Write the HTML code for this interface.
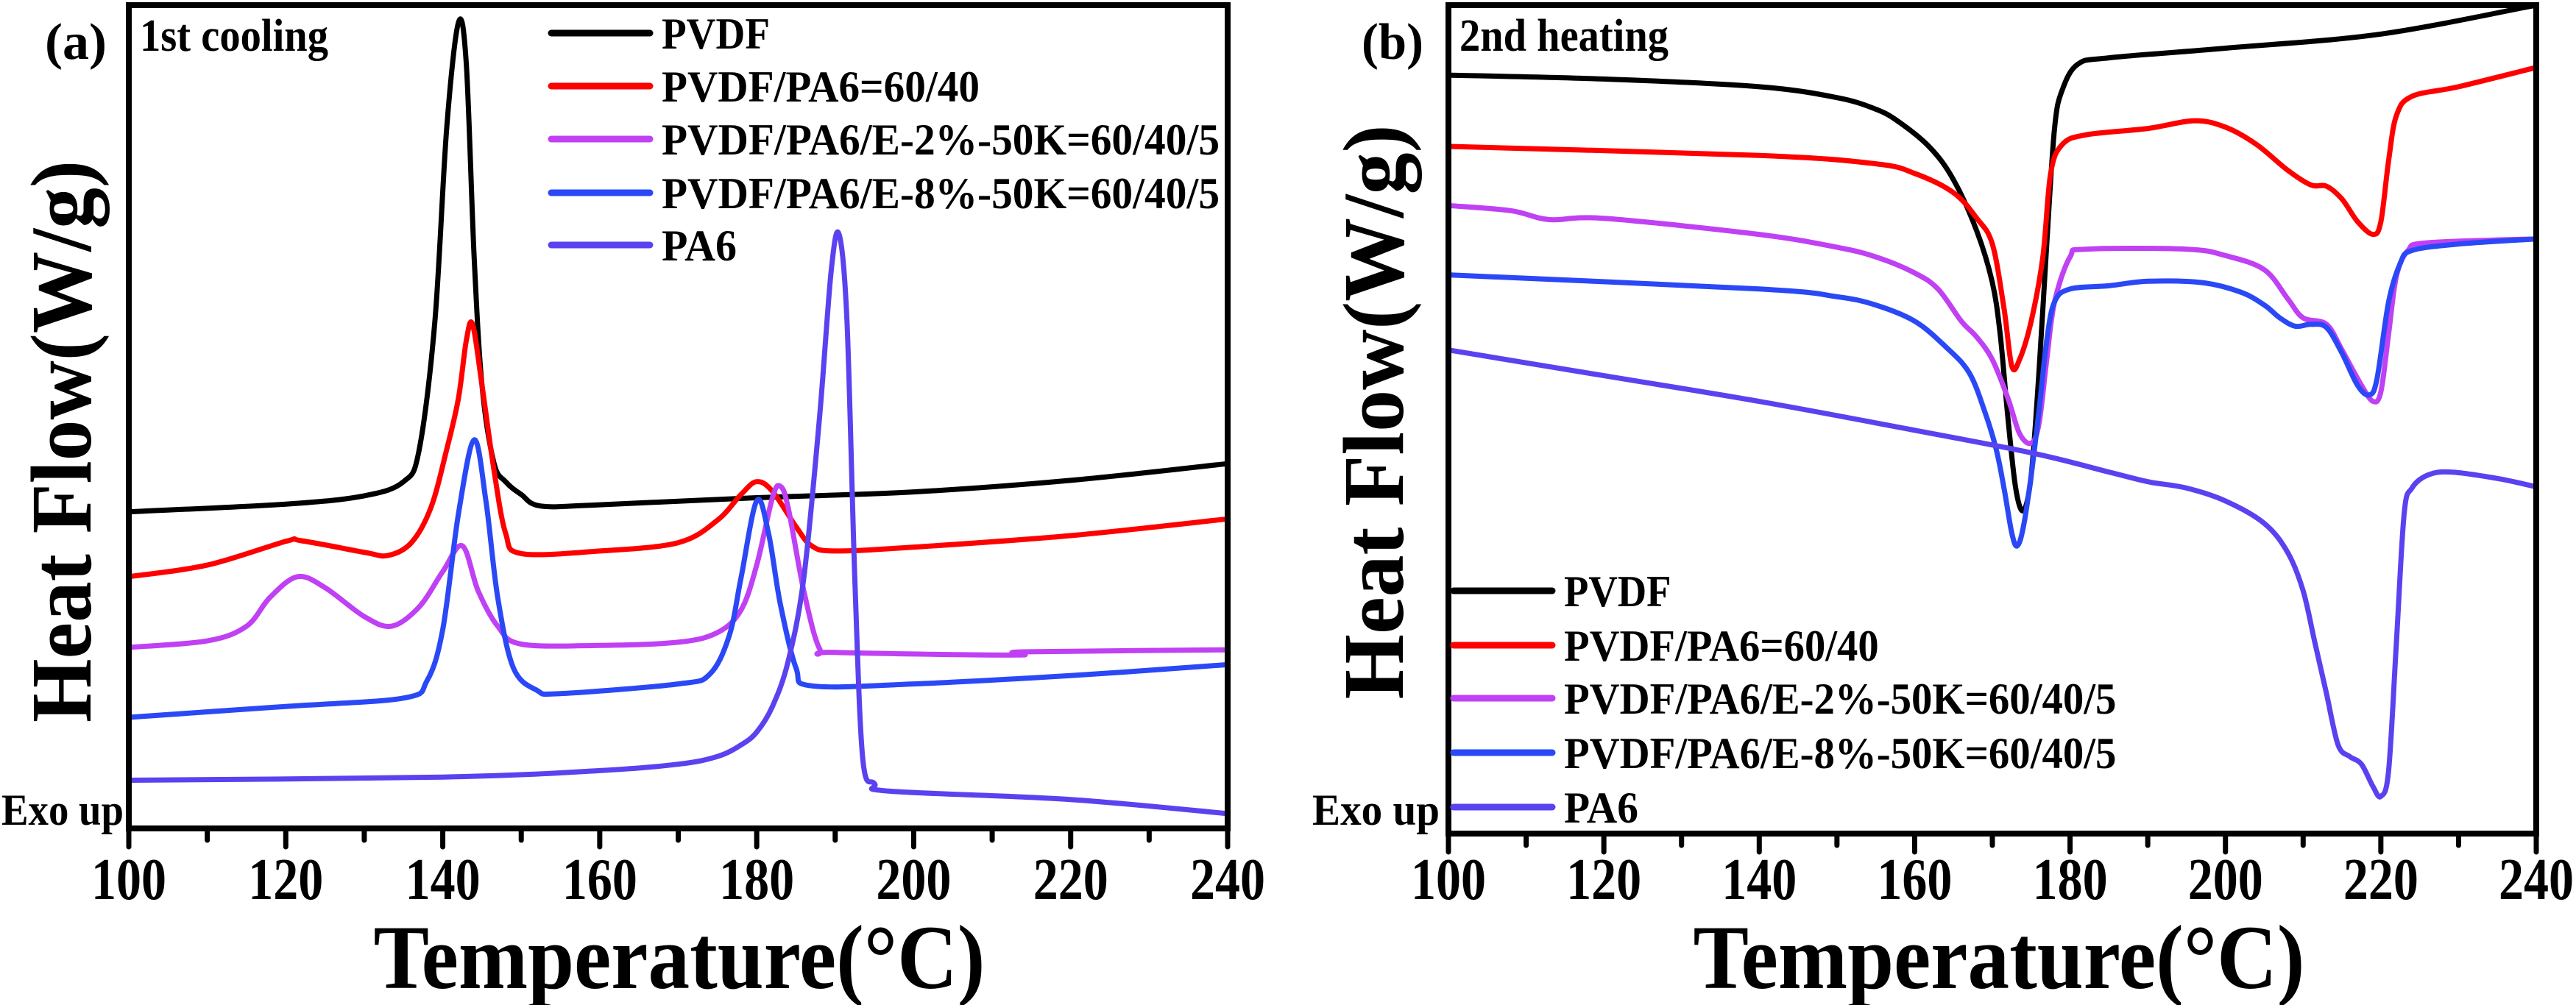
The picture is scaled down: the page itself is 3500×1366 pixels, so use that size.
<!DOCTYPE html>
<html><head><meta charset="utf-8"><style>
html,body{margin:0;padding:0;background:#fff;}
svg{display:block;}
text{font-family:"Liberation Serif",serif;font-weight:bold;fill:#000;}
</style></head><body>
<svg id="chart" width="3500" height="1366" viewBox="0 0 3500 1366" xmlns="http://www.w3.org/2000/svg">
<g id="panelA"></g>
<g id="panelB"></g>
</svg>
<script>
// ---- data (temperature °C, heat flow a.u.) ----
const seriesNames = ["PVDF","PVDF/PA6=60/40","PVDF/PA6/E-2%-50K=60/40/5","PVDF/PA6/E-8%-50K=60/40/5","PA6"];
const seriesColors = ["#000000","#ff0000","#c040f4","#2a48f6","#5a42f0"];
const xTicks = [100,120,140,160,180,200,220,240];

// Panel (a) 1st cooling
const aPVDF_T = [100,120,130,135,137,139,140.5,142,143,144,145,146.5,148,150,152.5,160,180,200,220,240];
const aPVDF_V = [493,505,518,540,590,790,1090,1255,1190,890,690,570,540,520,502,504,515,524,542,568];
const aBlend_T = [100,110,120,122,130,133,136,138.5,140.5,142,143,143.8,145,146.5,148,150,160,170,175,178,180,182,185,187,190,200,220,240];
const aBlend_V = [392,410,447,448,430,425,445,500,590,670,760,785,690,560,460,428,432,445,480,520,540,525,470,440,432,438,456,482];
const aE2_T = [100,110,115,118,121.5,125,130,133.5,137,140,142.5,144.5,147,150,160,170,175,178,180,182,183,184,186,188,190,213,214,240];
const aE2_V = [282,292,315,360,392,375,330,315,345,400,440,370,315,287,285,290,305,340,410,515,533,500,370,280,274,270,275,278];
const aE8_T = [100,120,135,138,140,142,144,145.5,147,149,152,155,170,174,176.5,178,180,181.5,183,185,187,200,220,240];
const aE8_V = [173,190,203,230,310,490,605,510,360,250,215,210,225,240,300,390,510,460,350,250,222,225,238,255];
const aPA6_T = [100,140,160,170,175,178,180,182,184,186,188,189.5,190.5,191.5,192.5,193.5,195,197,220,240];
const aPA6_V = [75,80,90,100,112,130,150,190,260,390,640,870,925,790,390,110,70,58,45,23];

// Panel (b) 2nd heating
const bPVDF_T = [100,120,140,150,155,158,162,165,168,170,171,172,173,174,175,176,177,178,179,181,185,200,220,240];
const bPVDF_V = [1181,1175,1163,1146,1128,1108,1068,1018,938,858,778,648,538,503,558,718,918,1098,1158,1198,1208,1223,1245,1290];
const bBlend_T = [100,140,155,160,165,168,170,171.5,172.5,173.5,175,176.5,177.5,179,182,190,196,200,204,208,211,213,215,217,219,220,221,222,224,230,240];
const bBlend_V = [1070,1056,1043,1028,998,958,918,818,728,738,798,898,1028,1073,1088,1098,1110,1100,1073,1033,1010,1008,988,953,933,953,1048,1118,1148,1163,1193];
const bE2_T = [100,108,113,120,140,150,155,160,163,166,168,170,172,173.5,175,176,177,178,180,182,195,200,205,208,210,213,215,217.5,219,220,221,222,223.5,226,240];
const bE2_V = [978,970,956,958,933,913,898,873,848,798,773,738,678,623,608,638,738,828,898,910,910,900,878,833,803,793,753,698,673,688,778,868,908,920,926];
const bE8_T = [100,140,150,155,160,164,167,169,170.5,171.5,172.5,173.2,174,175,176,177,178,180,185,190,197,202,205,207,209,211,213,215,217,218.5,219.5,221,222.5,224,230,240];
const bE8_V = [870,848,836,823,798,758,718,658,598,538,468,448,478,558,658,768,828,848,853,860,858,843,823,803,790,793,788,748,698,683,708,828,888,908,918,926];
const bPA6_T = [100,120,140,160,175,185,190,195,200,205,208,210,211.5,213,214.5,216,217.5,219,220,221,222,223,224,226,229,235,240];
const bPA6_V = [753,713,673,628,593,563,548,538,518,483,438,378,298,218,138,120,108,73,58,98,298,498,538,558,563,553,540];

const NS = "http://www.w3.org/2000/svg";
function mk(parent, tag, attrs, txt){
  const e = document.createElementNS(NS, tag);
  for (const k in attrs) e.setAttribute(k, attrs[k]);
  if (txt !== undefined) e.textContent = txt;
  parent.appendChild(e); return e;
}
function smoothPath(pts){
  let d = "M"+pts[0][0].toFixed(1)+","+pts[0][1].toFixed(1);
  for (let i=0;i<pts.length-1;i++){
    const p0=pts[Math.max(0,i-1)], p1=pts[i], p2=pts[i+1], p3=pts[Math.min(pts.length-1,i+2)];
    const c1x=p1[0]+(p2[0]-p0[0])/6, c1y=p1[1]+(p2[1]-p0[1])/6;
    const c2x=p2[0]-(p3[0]-p1[0])/6, c2y=p2[1]-(p3[1]-p1[1])/6;
    d += " C"+c1x.toFixed(1)+","+c1y.toFixed(1)+" "+c2x.toFixed(1)+","+c2y.toFixed(1)+" "+p2[0].toFixed(1)+","+p2[1].toFixed(1);
  }
  return d;
}

function drawPanel(g, cfg){
  const xS = t => cfg.x0 + (t-100)/140*(cfg.x1-cfg.x0);
  const yS = v => cfg.yb - v/cfg.vmax*(cfg.yb-cfg.yt);
  cfg.series.forEach((s,i)=>{
    const pts = s.T.map((t,j)=>[xS(t), yS(s.V[j])]);
    const p = mk(g,"path",{d:smoothPath(pts),fill:"none",stroke:seriesColors[i],"stroke-width":7,"stroke-linejoin":"round","stroke-linecap":"round"});
    
    
  });
  const fr = mk(g,"rect",{x:cfg.x0,y:cfg.yt,width:cfg.x1-cfg.x0,height:cfg.yb-cfg.yt,fill:"none",stroke:"#000","stroke-width":8});
  
  
  for (let t=100;t<=240;t+=10){
    const major = (t%20===0);
    const tk = mk(g,"line",{x1:xS(t),x2:xS(t),y1:cfg.yb,y2:cfg.yb+(major?25:16),stroke:"#000","stroke-width":7,"stroke-linecap":"round"});
    
    
  }
  xTicks.forEach(t=>{
    const tl = mk(g,"text",{x:xS(t),y:1222,"font-size":80,"text-anchor":"middle",textLength:102,lengthAdjust:"spacingAndGlyphs"},String(t));
    
    
  });
  const xt = mk(g,"text",{x:cfg.xtc,y:1343,"font-size":124,"text-anchor":"middle",textLength:831,lengthAdjust:"spacingAndGlyphs"},"Temperature(°C)");
  
  
  const yt = mk(g,"text",{x:0,y:0,"font-size":118,"text-anchor":"middle",textLength:cfg.ytl,lengthAdjust:"spacingAndGlyphs",transform:"translate("+cfg.ytx+","+cfg.ytc+") rotate(-90)"},"Heat Flow(W/g)");
  
  
  const pl = mk(g,"text",{x:cfg.plx,y:80,"font-size":70,textLength:84,lengthAdjust:"spacingAndGlyphs"},cfg.panelLabel);
  
  
  const st = mk(g,"text",{x:cfg.stx,y:69,"font-size":62,textLength:cfg.stl,lengthAdjust:"spacingAndGlyphs"},cfg.subtitle);
  
  
  const ex = mk(g,"text",{x:cfg.exx,y:1121,"font-size":60,textLength:cfg.exl,lengthAdjust:"spacingAndGlyphs"},"Exo up");
  
  
  const lg = mk(g,"g",{});
  
  
  const lens = [147,432,758,758,102];
  seriesNames.forEach((n,i)=>{
    const y = cfg.legY[i];
    const ln = mk(lg,"line",{x1:cfg.legX,x2:cfg.legX+134,y1:y,y2:y,stroke:seriesColors[i],"stroke-width":9,"stroke-linecap":"round"});
    
    
    const tx = mk(lg,"text",{x:cfg.legX+150,y:y+21,"font-size":60,textLength:lens[i]*cfg.legScale,lengthAdjust:"spacingAndGlyphs"},n);
    
    
  });
}

drawPanel(document.getElementById("panelA"),{
  id:"a",x0:175,x1:1668,yt:7,yb:1126,vmax:1282,
  series:[{T:aPVDF_T,V:aPVDF_V},{T:aBlend_T,V:aBlend_V},{T:aE2_T,V:aE2_V},{T:aE8_T,V:aE8_V},{T:aPA6_T,V:aPA6_V}],
  xtc:923, ytx:123, ytc:600, ytl:764, plx:61, panelLabel:"(a)", stx:190, stl:256, subtitle:"1st cooling",
  exx:2, exl:166, legX:749, legY:[45,117,189,262,333], legScale:1
});
drawPanel(document.getElementById("panelB"),{
  id:"b",x0:1968,x1:3446,yt:7,yb:1133,vmax:1290,
  series:[{T:bPVDF_T,V:bPVDF_V},{T:bBlend_T,V:bBlend_V},{T:bE2_T,V:bE2_V},{T:bE8_T,V:bE8_V},{T:bPA6_T,V:bPA6_V}],
  xtc:2716, ytx:1906, ytc:560, ytl:781, plx:1850, panelLabel:"(b)", stx:1983, stl:284, subtitle:"2nd heating",
  exx:1783, exl:173, legX:1975, legY:[803,877,949,1023,1097], legScale:0.99
});
</script>
</body></html>
